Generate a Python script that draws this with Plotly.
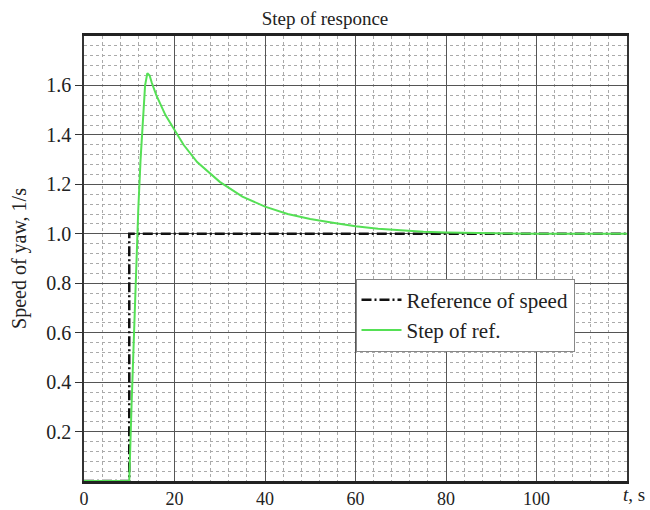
import plotly.graph_objects as go

# Reference of speed (step input)
ref_t = [0, 10, 10, 120]
ref_y = [0, 0, 1.0, 1.0]

# Step response
resp_t = [0, 10, 10.5, 11, 11.5, 12, 12.5, 13, 13.5, 14, 14.5, 15, 16, 18, 20, 22, 25, 28, 30,
          35, 40, 45, 50, 55, 60, 65, 70, 75, 80, 90, 100, 120]
resp_y = [0, 0, 0.3, 0.6, 0.9, 1.1, 1.3, 1.47, 1.6, 1.65, 1.64, 1.61, 1.56, 1.48, 1.42, 1.36,
          1.29, 1.24, 1.21, 1.15, 1.11, 1.08, 1.06, 1.045, 1.03, 1.02, 1.013, 1.008, 1.005,
          1.002, 1.0, 1.0]

x_ticks = [0, 20, 40, 60, 80, 100]
y_ticks = [0.2, 0.4, 0.6, 0.8, 1.0, 1.2, 1.4, 1.6]
y_tick_text = ["0.2", "0.4", "0.6", "0.8", "1.0", "1.2", "1.4", "1.6"]

FONT = "Liberation Serif"
TXT = "#222222"

fig = go.Figure()
fig.add_trace(go.Scatter(x=ref_t, y=ref_y, mode="lines", name="Reference of speed",
                         line=dict(color="#111111", width=2.5, dash="10px,3px,2px,3px")))
fig.add_trace(go.Scatter(x=resp_t, y=resp_y, mode="lines", name="Step of ref.",
                         line=dict(color="#55e055", width=2)))

fig.update_layout(
    width=650, height=510,
    margin=dict(l=84, r=23, t=36, b=29),
    paper_bgcolor="white", plot_bgcolor="white",
    font=dict(family=FONT, size=20, color=TXT),
    title=dict(text="Step of responce", x=0.5, xanchor="center", y=0.978, yanchor="top",
               font=dict(family=FONT, size=19, color=TXT)),
    legend=dict(x=0.50, y=0.455, xanchor="left", yanchor="top",
                bgcolor="white", bordercolor="#888888", borderwidth=1,
                font=dict(family=FONT, size=21, color=TXT),
                tracegroupgap=0, itemwidth=40),
    showlegend=True,
)

fig.update_xaxes(
    range=[0, 120], tickvals=x_ticks, ticks="", automargin=False,
    showgrid=True, gridcolor="#555555", gridwidth=1.2,
    minor=dict(dtick=4, tick0=0, showgrid=True, gridcolor="#aaaaaa", griddash="dot", gridwidth=1),
    showline=True, linecolor="#222222", linewidth=2.5, mirror=True,
    zeroline=False, tickfont=dict(family=FONT, size=18, color=TXT),
)
fig.update_yaxes(
    range=[0, 1.8], tickvals=y_ticks, ticktext=y_tick_text, ticks="outside", ticklen=7,
    tickcolor="#333333", automargin=False,
    showgrid=True, gridcolor="#555555", gridwidth=1.2,
    minor=dict(dtick=0.04, tick0=0, showgrid=True, gridcolor="#aaaaaa", griddash="dot", gridwidth=1),
    showline=True, linecolor="#333333", linewidth=1.5, mirror=True,
    zeroline=False, tickfont=dict(family=FONT, size=20, color=TXT),
    title=dict(text="Speed of yaw, 1/s", font=dict(family=FONT, size=20, color=TXT),
               standoff=14),
)

fig.add_annotation(text="<i>t</i>, s", x=120, y=0, xref="x", yref="y",
                   xanchor="left", yanchor="top", xshift=-6, yshift=-1, showarrow=False,
                   font=dict(family=FONT, size=19, color=TXT))

fig.write_html("out.html")
